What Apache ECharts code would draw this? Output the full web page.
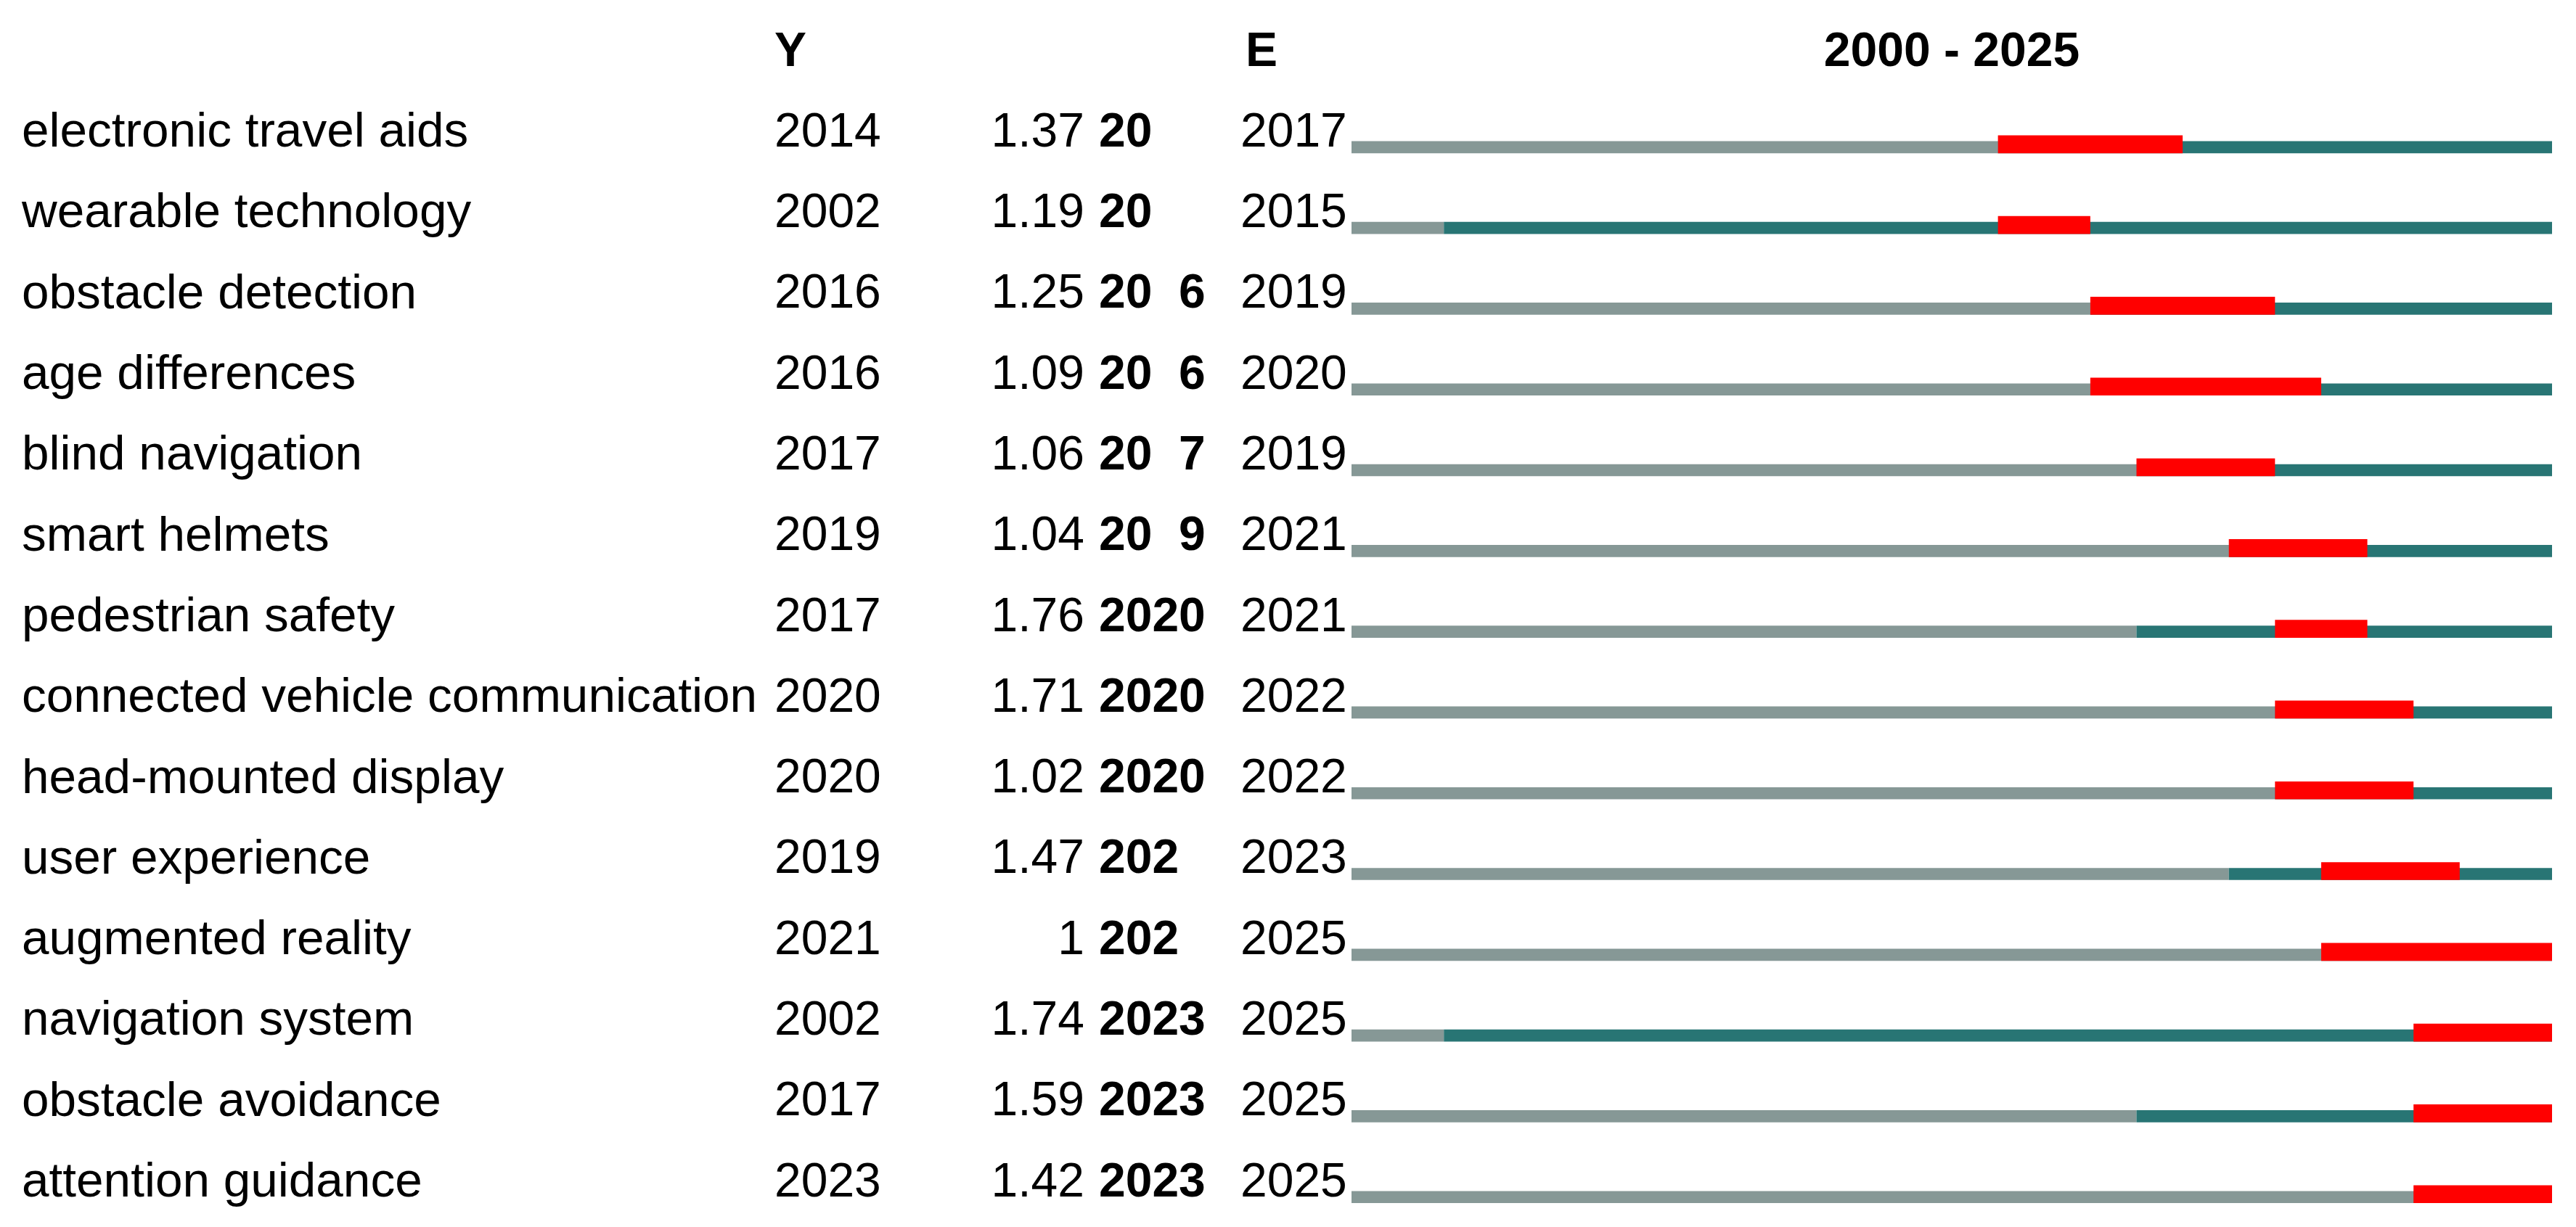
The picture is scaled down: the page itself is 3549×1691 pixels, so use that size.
<!DOCTYPE html>
<html><head><meta charset="utf-8">
<script src="https://cdn.jsdelivr.net/npm/echarts@6/dist/echarts.min.js"></script>
<style>html,body{margin:0;padding:0;background:#fff}#c{width:3549px;height:1691px}</style>
</head><body><div id="c"></div>
<script>
const keywords = ['electronic travel aids','wearable technology','obstacle detection','age differences','blind navigation','smart helmets','pedestrian safety','connected vehicle communication','head-mounted display','user experience','augmented reality','navigation system','obstacle avoidance','attention guidance'];
const years = [2014,2002,2016,2016,2017,2019,2017,2020,2020,2019,2021,2002,2017,2023];
const strengths = ['1.37','1.19','1.25','1.09','1.06','1.04','1.76','1.71','1.02','1.47','1','1.74','1.59','1.42'];
const begins = [2014,2014,2016,2016,2017,2019,2020,2020,2020,2021,2021,2023,2023,2023];
const ends = [2017,2015,2019,2020,2019,2021,2021,2022,2022,2023,2025,2025,2025,2025];
const rangeStart = 2000, rangeEnd = 2025;
const headers = {year:'Y', end:'E', range:'2000 - 2025'};

const FONT = '"Liberation Sans", Arial, sans-serif';
const FS = 66;
const colors = ['#869896', '#287574', '#ff0000'];

const barData = [];
keywords.forEach((k, i) => {
  barData.push([i, rangeStart, years[i], 0]);
  barData.push([i, years[i], rangeEnd + 1, 1]);
});
keywords.forEach((k, i) => {
  barData.push([i, begins[i], ends[i] + 1, 2]);
});

function renderItem(params, api) {
  const row = api.value(0);
  const a = api.coord([api.value(1), row]);
  const b = api.coord([api.value(2), row]);
  const band = api.size([0, 1])[1];
  const kind = api.value(3);
  const bottom = a[1] + band * 0.2485;
  const top = kind === 2 ? a[1] + band * 0.027 : a[1] + band * 0.099;
  return {type: 'rect', shape: {x: a[0], y: top, width: b[0] - a[0], height: bottom - top}, style: {fill: colors[kind]}};
}

const gridLeft = 1862, gridRight = 3516, gridTop = 127.85, bandH = 111.3;

function colAxis(margin, align, fmt, fs) {
  return {
    type: 'category', gridIndex: 0, data: keywords, inverse: true, position: 'left', offset: 0,
    axisLine: {show: false}, axisTick: {show: false}, splitLine: {show: false},
    axisLabel: {interval: 0, margin: margin, align: align, fontSize: fs || FS, fontFamily: FONT, color: '#000', formatter: fmt}
  };
}

const beginFmt = (v, idx) => String(begins[idx]).split('').map(c => (c === '1' || c === '4') ? '{h|' + c + '}' : '{b|' + c + '}').join('');

const chart = echarts.init(document.getElementById('c'), null, {renderer: 'canvas'});
chart.setOption({
  animation: false,
  backgroundColor: '#fff',
  grid: {left: gridLeft, top: gridTop, width: gridRight - gridLeft, height: bandH * keywords.length, containLabel: false},
  xAxis: {type: 'value', min: rangeStart, max: rangeEnd + 1, show: false},
  yAxis: [
    colAxis(gridLeft - 30, 'left', (v) => v, 67.5),
    colAxis(gridLeft - 1067, 'left', (v, i) => String(years[i])),
    colAxis(gridLeft - 1494, 'right', (v, i) => strengths[i]),
    (function(){
      const ax = colAxis(gridLeft - 1514, 'left', beginFmt);
      ax.axisLabel.fontWeight = 'bold';
      ax.axisLabel.rich = {
        b: {fontSize: FS, fontFamily: FONT, fontWeight: 'bold', color: '#000'},
        h: {fontSize: FS, fontFamily: FONT, fontWeight: 'bold', color: 'rgba(0,0,0,0)'}
      };
      return ax;
    })(),
    colAxis(gridLeft - 1709, 'left', (v, i) => String(ends[i]))
  ],
  graphic: [
    {type: 'text', x: 1067, y: 73, style: {text: headers.year, fontSize: FS, fontWeight: 'bold', fontFamily: FONT, fill: '#000', align: 'left', verticalAlign: 'middle'}},
    {type: 'text', x: 1716, y: 73, style: {text: headers.end, fontSize: FS, fontWeight: 'bold', fontFamily: FONT, fill: '#000', align: 'left', verticalAlign: 'middle'}},
    {type: 'text', x: (gridLeft + gridRight) / 2, y: 73, style: {text: headers.range, fontSize: FS, fontWeight: 'bold', fontFamily: FONT, fill: '#000', align: 'center', verticalAlign: 'middle'}}
  ],
  series: [{
    type: 'custom', xAxisIndex: 0, yAxisIndex: 0, renderItem: renderItem,
    encode: {x: [1, 2], y: 0}, data: barData, clip: false, silent: true
  }]
});
</script></body></html>
